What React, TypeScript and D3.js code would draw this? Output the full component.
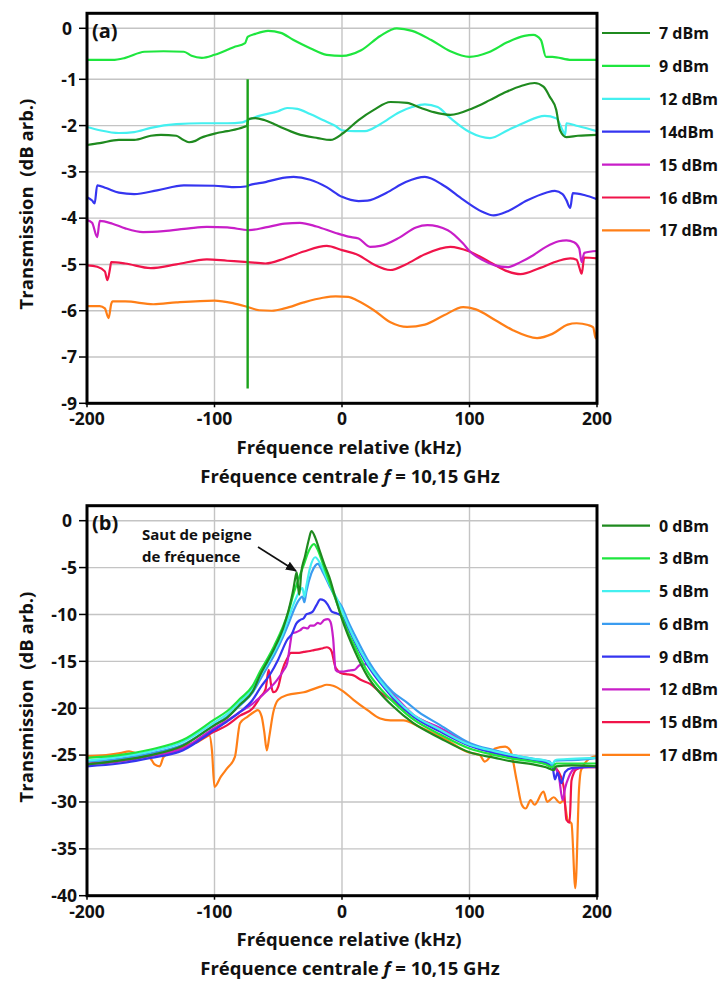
import React from "react";
import * as d3 from "d3";

type P = [number, number];

// ---------- shared axis data ----------
const FREQ_TICKS = [-200, -100, 0, 100, 200];
const FREQ_TICK_LABELS = ["-200", "-100", "0", "100", "200"];

// ---------- panel (a) ----------
const A_TICKS = [0, -1, -2, -3, -4, -5, -6, -7, -8];
const A_TICK_LABELS = ["0", "-1", "-2", "-3", "-4", "-5", "-6", "-7", "-9"];
const A_LEGEND = ["7 dBm", "9 dBm", "12 dBm", "14dBm", "15 dBm", "16 dBm", "17 dBm"];
const A_COLORS = ["#1f8a1f", "#1ee63e", "#44f0f0", "#3535f0", "#c81ec8", "#f0144a", "#ff7f17"];

const A_7: P[] = [[-200,-2.42],[-190,-2.38],[-175,-2.31],[-163,-2.31],[-150,-2.22],[-142,-2.2],[-130,-2.22],[-125,-2.3],[-120,-2.36],[-115,-2.33],[-111,-2.27],[-98,-2.16],[-90,-2.12],[-77,-2.03],[-74.5,-2.0],[-73.5,-1.86],[-68,-1.84],[-61,-1.88],[-53,-1.97],[-46,-2.06],[-35,-2.18],[-19,-2.27],[-9,-2.31],[1,-2.16],[13,-1.88],[25,-1.66],[38,-1.49],[51,-1.51],[62,-1.62],[72,-1.71],[85,-1.77],[103,-1.62],[116,-1.45],[129,-1.27],[141,-1.14],[151,-1.08],[158,-1.16],[163,-1.38],[168,-1.66],[171,-2.1],[176,-2.25],[185,-2.22],[200,-2.2]];
const A_9: P[] = [[-200,-0.62],[-180,-0.62],[-170,-0.58],[-155,-0.46],[-140,-0.45],[-124,-0.46],[-118,-0.54],[-110,-0.58],[-100,-0.52],[-85,-0.37],[-76,-0.29],[-74,-0.17],[-68,-0.11],[-58,-0.05],[-48,-0.09],[-38,-0.23],[-25,-0.39],[-12,-0.52],[0,-0.54],[15,-0.43],[30,-0.15],[43,0.0],[55,-0.05],[70,-0.23],[85,-0.45],[100,-0.56],[115,-0.47],[130,-0.27],[143,-0.15],[150,-0.13],[156,-0.23],[160,-0.56],[165,-0.56],[180,-0.62],[200,-0.62]];
const A_12: P[] = [[-200,-2.03],[-190,-2.1],[-175,-2.16],[-163,-2.14],[-150,-2.05],[-130,-1.97],[-110,-1.95],[-90,-1.95],[-78,-1.93],[-74,-1.88],[-65,-1.79],[-50,-1.69],[-43,-1.62],[-35,-1.64],[-25,-1.75],[-15,-1.88],[-5,-2.01],[0,-2.1],[10,-2.12],[18,-2.12],[30,-1.97],[45,-1.71],[55,-1.6],[65,-1.54],[75,-1.6],[85,-1.84],[100,-2.14],[116,-2.27],[130,-2.1],[142,-1.95],[159,-1.79],[168,-1.84],[173,-2.1],[175,-2.2],[176,-1.95],[185,-2.01],[200,-2.12]];
const A_14: P[] = [[-200,-3.55],[-196,-3.62],[-194,-3.68],[-192,-3.29],[-185,-3.35],[-175,-3.45],[-163,-3.48],[-145,-3.4],[-124,-3.29],[-100,-3.3],[-85,-3.33],[-74,-3.31],[-73,-3.29],[-60,-3.22],[-50,-3.15],[-38,-3.11],[-25,-3.17],[-12,-3.33],[0,-3.54],[13,-3.63],[20,-3.62],[35,-3.45],[50,-3.22],[65,-3.11],[80,-3.3],[95,-3.6],[110,-3.86],[119,-3.94],[130,-3.85],[145,-3.62],[160,-3.45],[167,-3.41],[173,-3.48],[176,-3.61],[179,-3.78],[181,-3.46],[190,-3.5],[200,-3.59]];
const A_15: P[] = [[-200,-4.04],[-196,-4.1],[-192,-4.41],[-190,-4.06],[-180,-4.12],[-170,-4.22],[-156,-4.3],[-140,-4.28],[-120,-4.22],[-106,-4.19],[-90,-4.2],[-73,-4.26],[-60,-4.2],[-45,-4.12],[-33,-4.1],[-20,-4.18],[-5,-4.32],[5,-4.4],[13,-4.44],[22,-4.62],[30,-4.6],[45,-4.42],[58,-4.2],[67,-4.15],[83,-4.26],[95,-4.55],[100,-4.71],[110,-4.9],[120,-5.02],[130,-5.06],[140,-4.95],[150,-4.8],[160,-4.62],[170,-4.5],[176,-4.48],[182,-4.52],[186,-4.65],[188,-4.95],[190,-4.75],[200,-4.71]];
const A_16: P[] = [[-200,-5.02],[-192,-5.05],[-186,-5.15],[-184,-5.34],[-182,-5.1],[-181,-4.95],[-170,-4.98],[-150,-5.08],[-130,-5.0],[-106,-4.89],[-90,-4.92],[-74,-4.95],[-60,-4.98],[-45,-4.87],[-30,-4.72],[-12,-4.6],[0,-4.69],[13,-4.8],[25,-5.0],[38,-5.12],[50,-5.0],[65,-4.78],[85,-4.62],[100,-4.72],[116,-4.95],[130,-5.15],[140,-5.21],[155,-5.08],[170,-4.92],[179,-4.87],[184,-4.9],[186,-5.05],[188,-5.2],[190,-4.85],[200,-4.87]];
const A_17: P[] = [[-200,-5.9],[-190,-5.9],[-186,-5.95],[-183,-6.16],[-181,-5.85],[-180,-5.8],[-170,-5.8],[-148,-5.86],[-130,-5.82],[-100,-5.78],[-85,-5.84],[-74,-5.92],[-65,-5.99],[-55,-6.0],[-45,-5.95],[-30,-5.82],[-15,-5.72],[-5,-5.69],[5,-5.7],[12,-5.78],[25,-5.99],[38,-6.25],[51,-6.35],[65,-6.3],[80,-6.1],[95,-5.92],[105,-5.97],[120,-6.2],[134,-6.42],[153,-6.59],[165,-6.5],[177,-6.3],[184,-6.27],[193,-6.31],[197,-6.36],[199,-6.6],[200,-6.38]];
const A_SERIES = [A_7, A_9, A_12, A_14, A_15, A_16, A_17];
const A_SPIKE_X = -74;
const A_SPIKE_RANGE: P = [-1.0, -7.68];

// ---------- panel (b) ----------
const B_TICKS = [0, -5, -10, -15, -20, -25, -30, -35, -40];
const B_TICK_LABELS = ["0", "-5", "-10", "-15", "-20", "-25", "-30", "-35", "-40"];
const B_LEGEND = ["0 dBm", "3 dBm", "5 dBm", "6 dBm", "9 dBm", "12 dBm", "15 dBm", "17 dBm"];
const B_COLORS = ["#1f8a1f", "#1ee63e", "#44f0f0", "#3a9cf0", "#3535f0", "#c81ec8", "#f0144a", "#ff7f17"];

const B_0: P[] = [[-200,-26.0],[-175,-25.6],[-150,-25.0],[-125,-24.0],[-100,-21.8],[-90,-21.0],[-80,-19.6],[-70,-18.2],[-64,-16.4],[-58,-14.9],[-53,-13.6],[-46,-11.4],[-42,-9.6],[-38,-7.2],[-36.5,-6.0],[-35.5,-5.5],[-34.5,-7.0],[-33.5,-7.9],[-32,-5.6],[-29,-3.8],[-26,-2.0],[-24,-1.1],[-21,-1.8],[-18,-3.0],[-14,-4.6],[-10,-6.0],[-5,-8.3],[0,-10.5],[5,-12.3],[10,-13.9],[20,-16.6],[30,-18.4],[40,-19.8],[56,-21.6],[77,-23.2],[100,-24.7],[120,-25.3],[134,-25.7],[150,-26.0],[160,-26.3],[166,-26.6],[168,-26.2],[180,-26.1],[200,-26.2]];
const B_3: P[] = [[-200,-25.3],[-175,-25.0],[-150,-24.4],[-125,-23.4],[-100,-21.2],[-90,-20.3],[-80,-19.0],[-70,-17.6],[-64,-16.0],[-58,-14.6],[-53,-13.3],[-46,-11.2],[-42,-9.7],[-38,-7.8],[-34,-6.2],[-30,-4.7],[-26,-3.2],[-22,-2.5],[-19,-3.1],[-15,-4.6],[-10,-6.5],[-5,-8.4],[0,-10.3],[5,-12.0],[10,-13.4],[20,-16.1],[30,-17.9],[40,-19.3],[56,-21.2],[77,-22.8],[100,-24.3],[120,-25.0],[134,-25.4],[150,-25.7],[160,-26.0],[165,-26.3],[168,-25.9],[180,-25.9],[200,-25.9]];
const B_5: P[] = [[-200,-25.6],[-175,-25.2],[-150,-24.6],[-125,-23.6],[-100,-21.5],[-90,-20.6],[-80,-19.3],[-70,-17.9],[-64,-16.5],[-58,-15.1],[-53,-13.9],[-46,-11.9],[-42,-10.4],[-38,-8.9],[-34,-7.7],[-31,-7.2],[-29.5,-8.1],[-28,-7.0],[-25,-5.0],[-21,-3.9],[-17,-4.6],[-13,-5.8],[-8,-7.3],[-3,-8.6],[0,-9.6],[5,-11.2],[10,-12.7],[20,-15.2],[30,-17.1],[40,-18.7],[56,-20.7],[77,-22.3],[100,-23.9],[120,-24.6],[134,-25.0],[150,-25.4],[160,-25.6],[165,-25.9],[168,-25.5],[180,-25.4],[200,-25.3]];
const B_6: P[] = [[-200,-25.7],[-175,-25.4],[-150,-24.8],[-125,-23.9],[-100,-21.8],[-90,-20.9],[-80,-19.7],[-70,-18.3],[-64,-16.9],[-58,-15.5],[-53,-14.3],[-46,-12.3],[-42,-11.0],[-38,-9.6],[-34,-8.5],[-31,-8.1],[-29.5,-8.7],[-28,-7.6],[-24,-5.6],[-21,-4.8],[-19,-4.6],[-15,-5.5],[-10,-6.9],[-5,-8.2],[0,-9.2],[5,-10.8],[10,-12.2],[20,-14.8],[30,-16.8],[40,-18.3],[51,-19.4],[60,-20.4],[77,-21.8],[100,-23.7],[120,-24.5],[134,-25.0],[150,-25.4],[163,-25.7],[165,-26.2],[167,-25.6],[187,-25.5],[200,-25.3]];
const B_9: P[] = [[-200,-26.2],[-175,-25.9],[-150,-25.3],[-125,-24.5],[-100,-22.3],[-90,-21.4],[-80,-20.4],[-70,-19.1],[-64,-17.8],[-56,-16.3],[-50,-14.8],[-43,-12.7],[-39,-12.0],[-36,-11.0],[-33,-10.6],[-30,-10.4],[-28,-10.0],[-26,-9.9],[-23,-9.7],[-20,-9.0],[-17,-8.4],[-14,-8.5],[-11,-9.0],[-8,-9.7],[-4,-9.9],[0,-10.2],[5,-11.5],[10,-12.9],[20,-15.4],[30,-17.3],[40,-18.9],[56,-20.9],[77,-22.5],[100,-24.0],[120,-24.8],[134,-25.2],[150,-25.6],[160,-25.8],[165,-26.2],[167,-27.6],[169,-26.9],[172,-28.0],[175,-26.8],[180,-26.4],[190,-26.3],[200,-26.2]];
const B_12: P[] = [[-200,-26.0],[-175,-25.7],[-150,-25.1],[-125,-24.3],[-100,-22.1],[-90,-21.3],[-80,-20.4],[-70,-19.5],[-60,-18.3],[-51,-17.0],[-46,-16.0],[-43,-15.2],[-41,-13.5],[-39,-12.0],[-36,-11.9],[-33,-11.7],[-30,-11.4],[-27,-11.5],[-25,-11.2],[-22,-11.2],[-19,-10.9],[-17,-11.0],[-14,-10.6],[-11,-10.5],[-9,-10.8],[-7,-12.5],[-5,-15.9],[-3,-16.1],[0,-16.1],[5,-16.0],[10,-15.9],[14,-15.4],[20,-15.3],[30,-17.0],[40,-18.5],[56,-20.7],[77,-22.1],[100,-23.8],[120,-24.6],[134,-25.1],[150,-25.5],[160,-25.8],[166,-26.2],[170,-27.2],[173,-29.8],[175,-28.5],[178,-27.3],[182,-26.5],[190,-26.3],[200,-26.3]];
const B_15: P[] = [[-200,-25.9],[-175,-25.6],[-150,-25.0],[-125,-24.3],[-100,-22.5],[-90,-21.8],[-80,-20.8],[-70,-20.0],[-64,-18.8],[-60,-18.0],[-57.5,-15.9],[-55.5,-17.6],[-54,-18.3],[-52,-18.2],[-50,-17.7],[-47,-16.0],[-43,-14.7],[-40,-14.1],[-35,-14.1],[-30,-14.0],[-25,-13.9],[-22,-13.8],[-18,-13.7],[-15,-13.6],[-12,-13.5],[-10,-13.6],[-8,-14.0],[-6,-15.2],[-5,-15.7],[0,-16.3],[5,-16.4],[9,-16.5],[15,-17.0],[22,-17.4],[30,-18.3],[40,-19.2],[56,-20.8],[77,-22.2],[100,-23.9],[120,-24.7],[134,-25.2],[150,-25.6],[160,-25.9],[166,-26.2],[170,-26.8],[174,-28.5],[176,-31.9],[178.5,-32.2],[180,-27.7],[184,-26.5],[190,-26.3],[200,-26.3]];
const B_17: P[] = [[-200,-25.1],[-185,-25.0],[-174,-24.8],[-167,-24.6],[-160,-24.9],[-152,-25.1],[-149,-25.6],[-147,-26.0],[-143,-26.2],[-140,-25.2],[-134,-24.7],[-121,-23.9],[-113,-23.6],[-107,-23.1],[-104,-22.9],[-102,-24.5],[-100,-28.4],[-95,-27.3],[-90,-26.4],[-84,-25.2],[-80,-21.6],[-74,-20.9],[-69,-20.4],[-66,-20.2],[-63,-20.9],[-61,-22.5],[-59,-24.5],[-57,-23.0],[-54,-20.5],[-50,-19.1],[-43,-18.6],[-30,-18.3],[-17,-17.7],[-12,-17.5],[-7,-17.6],[1,-18.2],[9,-19.1],[20,-20.2],[30,-21.1],[38,-21.3],[48,-21.3],[61,-22.0],[82,-23.4],[99,-24.7],[108,-25.0],[112,-25.7],[116,-25.2],[120,-24.3],[128,-24.1],[132,-24.5],[137,-27.7],[141,-30.3],[144,-30.7],[148,-29.8],[151,-30.3],[158,-28.9],[161,-30.0],[166,-29.5],[171,-30.1],[174,-29.8],[177,-31.9],[180,-32.3],[183,-39.2],[186,-28.4],[187.5,-26.6],[195,-25.3],[200,-25.1]];
const B_SERIES = [B_0, B_3, B_5, B_6, B_9, B_12, B_15, B_17];

const X_TITLE = "Fréquence relative (kHz)";
const Y_TITLE = "Transmission  (dB arb.)";
const ANNOT = ["Saut de peigne", "de fréquence"];

// ---------- layout ----------
const FONT = "'Open Sans', 'DejaVu Sans', sans-serif";
const LEFT = 87, RIGHT = 597;
const x = d3.scaleLinear().domain([-200, 200]).range([LEFT, RIGHT]);
const yA = d3.scaleLinear().domain([0, -1, -8]).range([28.3, 79.3, 403.3]);
const yB = d3.scaleLinear().domain([0, -40]).range([520.7, 895.7]);

type PanelProps = {
  id: string;
  y: d3.ScaleLinear<number, number>;
  top: number;
  bottom: number;
  ticks: number[];
  tickLabels: string[];
  series: P[][];
  colors: string[];
  legend: string[];
  legendY0: number;
  legendStep: number;
  tag: string;
  tagY: number;
  yTitleCenter: number;
  children?: React.ReactNode;
};

function Panel(p: PanelProps) {
  const line = d3
    .line<P>()
    .x((d) => x(d[0]))
    .y((d) => p.y(d[1]))
    .curve(d3.curveMonotoneX);
  const order = p.series.map((_, i) => i).reverse();
  return (
    <g>
      <defs>
        <clipPath id={"clip-" + p.id}>
          <rect x={LEFT} y={p.top} width={RIGHT - LEFT} height={p.bottom - p.top} />
        </clipPath>
      </defs>
      {p.ticks.map((t) => (
        <line key={"h" + t} x1={LEFT} x2={RIGHT} y1={p.y(t)} y2={p.y(t)} stroke="#c4c4c4" strokeWidth={1.4} />
      ))}
      {FREQ_TICKS.slice(1, -1).map((t) => (
        <line key={"v" + t} x1={x(t)} x2={x(t)} y1={p.top} y2={p.bottom} stroke="#c4c4c4" strokeWidth={1.4} />
      ))}
      <g clipPath={`url(#clip-${p.id})`}>
        {order.map((i) => (
          <path key={i} d={line(p.series[i]) || ""} fill="none" stroke={p.colors[i]} strokeWidth={2.2} strokeLinejoin="round" />
        ))}
        {p.children}
      </g>
      <rect x={LEFT} y={p.top} width={RIGHT - LEFT} height={p.bottom - p.top} fill="none" stroke="#000" strokeWidth={3} />
      {p.ticks.map((t, i) => (
        <g key={"yt" + t}>
          <line x1={LEFT - 8} x2={LEFT} y1={p.y(t)} y2={p.y(t)} stroke="#000" strokeWidth={1.5} />
          <text
            x={t >= 0 ? 72 : 77}
            y={p.y(t) + 6.3}
            textAnchor="end"
            fontFamily={FONT}
            fontWeight={700}
            fontSize={17.5}
            fill="#111"
          >
            {p.tickLabels[i]}
          </text>
        </g>
      ))}
      {FREQ_TICKS.map((t, i) => (
        <g key={"xt" + t}>
          <line x1={x(t)} x2={x(t)} y1={p.bottom} y2={p.bottom + 4} stroke="#000" strokeWidth={1.5} />
          <text x={x(t)} y={p.bottom + 22} textAnchor="middle" fontFamily={FONT} fontWeight={700} fontSize={17.5} fill="#111">
            {FREQ_TICK_LABELS[i]}
          </text>
        </g>
      ))}
      <text x={349} y={p.bottom + 50.5} textAnchor="middle" fontFamily={FONT} fontWeight={700} fontSize={18.5} fill="#111">
        {X_TITLE}
      </text>
      <text x={350} y={p.bottom + 79.5} textAnchor="middle" fontFamily={FONT} fontWeight={700} fontSize={18.5} fill="#111">
        Fréquence centrale <tspan fontStyle="italic">f</tspan> = 10,15 GHz
      </text>
      <text
        transform={`translate(33,${p.yTitleCenter}) rotate(-90)`}
        textAnchor="middle"
        fontFamily={FONT}
        fontWeight={700}
        fontSize={18.5}
        fill="#111"
        style={{ whiteSpace: "pre" }}
      >
        {Y_TITLE}
      </text>
      <text x={92} y={p.tagY} fontFamily={FONT} fontWeight={700} fontSize={20} fill="#111">
        {p.tag}
      </text>
      {p.legend.map((name, i) => {
        const ly = p.legendY0 + i * p.legendStep;
        return (
          <g key={name}>
            <line x1={602} x2={650} y1={ly} y2={ly} stroke={p.colors[i]} strokeWidth={2.2} />
            <text x={659} y={ly + 6} fontFamily={FONT} fontWeight={700} fontSize={16} fill="#111">
              {name}
            </text>
          </g>
        );
      })}
    </g>
  );
}

export default function App() {
  return (
    <div style={{ position: "absolute", left: 0, top: 0 }}>
      <svg width={722} height={981} style={{ display: "block", background: "#fff" }}>
        <defs>
          <marker id="arrowhead" viewBox="0 0 10 10" refX={9} refY={5} markerWidth={7} markerHeight={7} orient="auto">
            <path d="M0,1 L10,5 L0,9 Z" fill="#111" />
          </marker>
        </defs>
        <rect width={722} height={981} fill="#fff" />
        <Panel
          id="a"
          y={yA}
          top={13.3}
          bottom={403.3}
          ticks={A_TICKS}
          tickLabels={A_TICK_LABELS}
          series={A_SERIES}
          colors={A_COLORS}
          legend={A_LEGEND}
          legendY0={33}
          legendStep={32.9}
          tag="(a)"
          tagY={38}
          yTitleCenter={204}
        >
          <line
            x1={x(A_SPIKE_X)}
            x2={x(A_SPIKE_X)}
            y1={yA(A_SPIKE_RANGE[0])}
            y2={yA(A_SPIKE_RANGE[1])}
            stroke="#1aa21a"
            strokeWidth={2.4}
          />
        </Panel>
        <Panel
          id="b"
          y={yB}
          top={505.7}
          bottom={895.7}
          ticks={B_TICKS}
          tickLabels={B_TICK_LABELS}
          series={B_SERIES}
          colors={B_COLORS}
          legend={B_LEGEND}
          legendY0={525.7}
          legendStep={32.75}
          tag="(b)"
          tagY={530}
          yTitleCenter={697}
        />
        <text x={142} y={540} fontFamily={FONT} fontWeight={700} fontSize={15} fill="#111">
          {ANNOT[0]}
        </text>
        <text x={142} y={562} fontFamily={FONT} fontWeight={700} fontSize={15} fill="#111">
          {ANNOT[1]}
        </text>
        <line x1={258} y1={547} x2={296} y2={571} stroke="#111" strokeWidth={1.6} markerEnd="url(#arrowhead)" />
      </svg>
    </div>
  );
}
